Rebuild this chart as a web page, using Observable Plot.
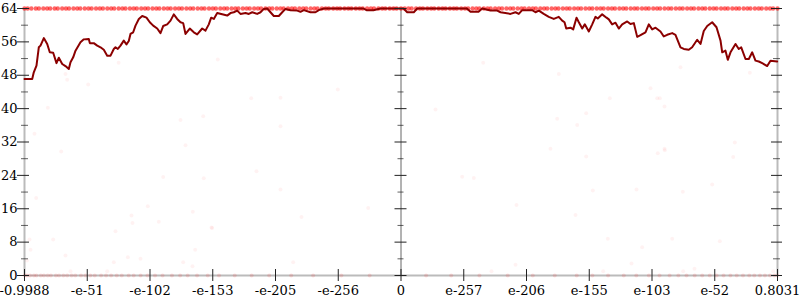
<!DOCTYPE html>
<html><head><meta charset="utf-8">
<script src="https://cdn.jsdelivr.net/npm/d3@7"></script>
<script src="https://cdn.jsdelivr.net/npm/@observablehq/plot@0.6"></script>
<style>body{margin:0;background:#fff}</style>
</head><body><div id="chart"></div>
<script>
const xTickPos = [0,1,2,3,4,5,6,7,8,9,10,11,12];
const xTickLabels = ["-0.9988","-e-51","-e-102","-e-153","-e-205","-e-256","0","e-257","e-206","e-155","e-103","e-52","0.8031"];
const yMajor = [0,8,16,24,32,40,48,56,64];
const yMinor = [4,12,20,28,36,44,52,60];

const lineX = [0,0.123,0.148,0.191,0.228,0.255,0.308,0.362,0.403,0.457,0.510,0.547,0.601,0.653,0.706,0.733,0.776,0.813,0.892,0.945,1.025,1.041,1.104,1.159,1.211,1.264,1.318,1.371,1.423,1.450,1.487,1.530,1.582,1.625,1.662,1.689,1.732,1.769,1.822,1.876,1.944,1.997,2.051,2.115,2.167,2.210,2.274,2.327,2.379,2.433,2.486,2.529,2.566,2.634,2.698,2.752,2.832,2.884,2.937,2.975,3.017,3.071,3.151,3.230,3.283,3.335,3.390,3.442,3.522,3.575,3.629,3.708,3.761,3.814,3.868,3.920,3.973,4.053,4.107,4.159,4.239,4.346,4.398,4.451,4.558,4.637,4.690,4.770,5.402,5.45,5.56,5.673,6.04,6.099,6.204,6.258,7.05,7.108,7.235,7.294,7.426,7.533,7.586,7.745,7.825,7.877,7.931,8.091,8.143,8.196,8.275,8.355,8.435,8.514,8.569,8.606,8.633,8.701,8.744,8.797,8.834,8.888,8.929,8.993,9.047,9.099,9.136,9.206,9.275,9.312,9.365,9.418,9.471,9.525,9.605,9.657,9.710,9.764,9.817,9.896,9.949,10.003,10.056,10.135,10.188,10.242,10.322,10.374,10.454,10.507,10.586,10.640,10.720,10.773,10.825,10.880,10.959,11.028,11.092,11.119,11.171,11.208,11.251,11.331,11.383,11.422,11.490,11.543,11.597,11.649,11.702,11.756,11.836,11.888,11.995];
const lineY = [47.1,47.1,48.7,50.3,54.7,55.1,56.9,55.5,53.5,53.4,50.9,52.2,50.7,50.2,49.5,51.1,52.3,53.9,55.9,56.6,56.7,55.7,55.7,55.1,54.7,54.1,52.7,52.7,54.3,54.7,54.3,55.1,56.3,55.4,56.2,57.9,58.3,59.9,61.5,62.2,61.8,60.7,59.9,59.2,58.1,59.8,60.2,61.1,62.6,61.5,60.7,60.5,57.9,59.2,58.3,57.8,59.2,58.7,60.2,61.8,61.5,62.9,62.6,62.3,62.9,63.1,63.5,62.7,62.9,62.7,63.1,62.7,63.1,63.9,64,63.1,62.2,62.2,63.1,63.9,63.6,63.5,63.2,63.6,63.1,63.1,63.6,64,64,63.6,63.6,64,64,63.1,63.1,64,64,63.2,63.2,64,63.5,63.5,63.1,62.7,63.1,62.7,63.6,63.6,63.1,63.5,62.7,62.0,61.5,62.0,61.1,60.7,59.2,59.4,59.0,61.8,60.7,59.2,60.2,58.5,60.2,62.0,61.6,62.6,61.8,61.4,60.2,60.6,59.2,60.2,60.9,60.3,60.5,57.2,57.6,58.3,60.2,59.0,59.4,58.5,57.3,57.7,58.1,57.7,54.7,54.3,54.1,54.7,56.5,55.5,58.6,59.8,60.7,59.5,56.3,53.5,53.9,51.7,53.5,55.5,54.3,54.7,51.9,51.9,53.5,51.5,51.3,50.9,50.2,51.5,51.3];

// dense band of samples at 64 bits
const topX = [0.00,0.05,0.11,0.18,0.23,0.30,0.36,0.41,0.48,0.53,0.60,0.66,0.71,0.78,0.84,0.89,0.96,1.02,1.07,1.14,1.20,1.25,1.32,1.38,1.43,1.50,1.56,1.61,1.68,1.74,1.79,1.86,1.92,1.97,2.04,2.10,2.15,2.22,2.28,2.33,2.40,2.46,2.51,2.58,2.64,2.69,2.76,2.82,2.87,2.94,3.00,3.05,3.12,3.18,3.23,3.30,3.36,3.41,3.48,3.54,3.59,3.66,3.72,3.77,3.84,3.90,3.95,4.02,4.08,4.13,4.20,4.26,4.31,4.38,4.44,4.49,4.56,4.62,4.67,4.74,4.80,4.85,4.92,4.98,5.03,5.10,5.16,5.21,5.28,5.34,5.39,5.46,5.52,5.57,5.64,5.70,5.75,5.82,5.88,5.93,6.00,6.06,6.12,6.17,6.24,6.30,6.35,6.42,6.48,6.53,6.60,6.66,6.71,6.78,6.84,6.89,6.96,7.02,7.07,7.14,7.20,7.25,7.32,7.38,7.43,7.50,7.56,7.61,7.68,7.74,7.79,7.86,7.92,7.97,8.04,8.10,8.15,8.22,8.28,8.33,8.40,8.46,8.51,8.58,8.64,8.69,8.76,8.82,8.87,8.94,9.00,9.05,9.12,9.18,9.23,9.30,9.36,9.41,9.48,9.54,9.59,9.66,9.72,9.77,9.84,9.90,9.95,10.02,10.08,10.13,10.20,10.26,10.31,10.38,10.44,10.49,10.56,10.62,10.67,10.74,10.80,10.85,10.92,10.98,11.03,11.10,11.16,11.21,11.28,11.34,11.39,11.46,11.52,11.57,11.64,11.70,11.75,11.82,11.88,11.93,12.00];
// band of samples at 0 bits
const bottomX = [0.00,0.04,0.09,0.15,0.19,0.26,0.31,0.37,0.42,0.50,0.55,0.62,0.68,0.75,0.81,0.90,0.97,1.05,1.12,1.22,1.30,1.38,1.47,1.55,1.66,1.74,1.85,1.96,2.08,2.20,2.35,2.48,2.60,2.75,2.92,3.10,3.35,3.62,3.90,4.25,4.60,5.05,5.50,6.40,6.80,7.25,7.70,8.10,8.45,8.80,9.05,9.30,9.55,9.75,9.95,10.12,10.28,10.42,10.55,10.68,10.80,10.92,11.03,11.14,11.25,11.35,11.45,11.55,11.63,11.72,11.80,11.88,11.95,12.00];
// scattered samples
const scatterX = [1.50,3.08,0.653,0.68,1.015,0.372,0.159,3.613,4.08,4.993,2.486,2.848,4.08,2.566,0.585,0.186,0.08,0.096,0.457,0.653,0.04,0.733,1.318,1.45,1.423,1.647,1.705,1.721,1.849,1.965,2.14,2.21,2.529,2.682,2.677,2.72,2.857,2.98,2.99,3.697,4.08,4.282,4.414,5.477,7.31,8.515,10.454,11.559,9.976,9.328,10.083,10.125,6.55,10.199,8.951,8.489,8.808,8.382,10.199,11.32,8.951,10.092,10.204,11.294,6.975,7.16,10.959,9.057,9.753,10.491,7.841,8.781,9.296,10.322,11.081,9.843,7.825,9.673,10.677,7.442,9.222,10.497,11.931];
const scatterY = [51.0,51.8,48.3,46.9,45.8,40.2,34.0,42.5,42.6,44.6,37.3,38.2,35.8,31.2,29.7,18.6,8.6,6.2,8.6,4.8,3.6,1.0,1.0,10.6,3.2,4.4,14.4,12.6,4.0,16.6,12.9,23.6,3.2,15.3,2.2,6.2,23.3,11.5,11.4,25.0,20.6,3.2,14.0,16.2,51.0,48.3,49.9,48.6,44.9,42.5,42.5,42.5,39.8,40.5,38.9,37.6,36.1,30.4,30.4,31.9,28.5,29.3,30.0,28.4,23.7,23.4,21.8,20.4,20.6,20.1,16.9,14.5,8.8,8.8,8.2,6.8,2.6,2.9,1.6,1.0,1.0,1.0,1.0];

const topPts = topX.map(x => ({x, y: 64}));
const bottomPts = bottomX.map(x => ({x, y: 0}));
const scatterPts = scatterX.map((x, i) => ({x, y: scatterY[i]}));
const linePts = lineX.map((x, i) => ({x, y: lineY[i]}));

const tickColor = "#222";
const font = "DejaVu Serif";
const chart = Plot.plot({
  width: 800, height: 300,
  marginLeft: 24, marginRight: 23, marginTop: 8, marginBottom: 25,
  x: {domain: [0, 12], label: null},
  y: {domain: [0, 64], label: null},
  style: {fontFamily: font, fontSize: "13px", background: "white", color: "#000"},
  marks: [
    Plot.ruleY([0], {stroke: "#bbb", strokeWidth: 2}),
    Plot.ruleX([0, 12], {stroke: "#bbb", strokeWidth: 2}),
    Plot.ruleX([6], {stroke: "#666", strokeWidth: 1}),
    Plot.dot(bottomPts, {x: "x", y: "y", r: 2, fill: "red", fillOpacity: 0.12, stroke: "none"}),
    Plot.dot(scatterPts, {x: "x", y: "y", r: 2, fill: "red", fillOpacity: 0.05, stroke: "none"}),
    Plot.dot(topPts, {x: "x", y: "y", r: 2.2, fill: "red", fillOpacity: 0.6, stroke: "none"}),
    Plot.line(linePts, {x: "x", y: "y", stroke: "#8b0000", strokeWidth: 2}),
    // y ticks: left, center, right
    Plot.ruleY(yMajor, {x1: 0, x2: 0, insetLeft: -7, insetRight: -5, stroke: tickColor}),
    Plot.ruleY(yMinor, {x1: 0, x2: 0, insetLeft: -3, insetRight: -4, stroke: tickColor, strokeOpacity: 0.7}),
    Plot.ruleY(yMajor, {x1: 6, x2: 6, insetLeft: -6, insetRight: -6, stroke: tickColor}),
    Plot.ruleY(yMinor, {x1: 6, x2: 6, insetLeft: -3, insetRight: -3, stroke: tickColor, strokeOpacity: 0.7}),
    Plot.ruleY(yMajor, {x1: 12, x2: 12, insetLeft: -6, insetRight: -5, stroke: tickColor}),
    Plot.ruleY(yMinor, {x1: 12, x2: 12, insetLeft: -4, insetRight: -3, stroke: tickColor, strokeOpacity: 0.7}),
    // x ticks
    Plot.ruleX(xTickPos, {y1: 0, y2: 0, insetTop: -6, insetBottom: -6, stroke: tickColor}),
    Plot.axisY(yMajor, {anchor: "left", label: null, tickSize: 0, tickPadding: 7, fontSize: 13, fontFamily: font, fill: "#000"}),
    Plot.axisX(xTickPos, {anchor: "bottom", label: null, tickSize: 0, tickPadding: 10, fontSize: 13, fontFamily: font, fill: "#000",
      tickFormat: d => xTickLabels[xTickPos.indexOf(d)]})
  ]
});
document.getElementById("chart").appendChild(chart);
</script>
</body></html>
